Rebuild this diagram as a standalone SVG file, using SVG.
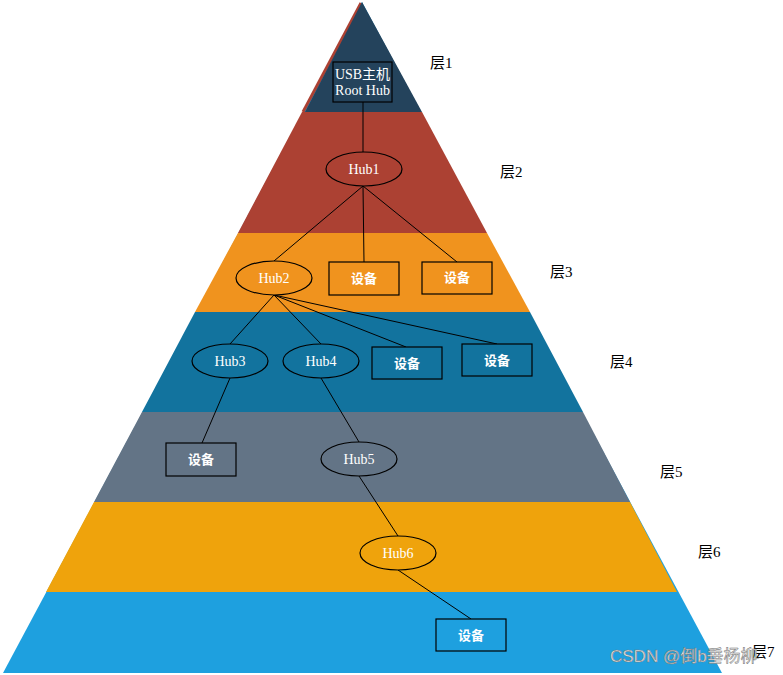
<svg xmlns="http://www.w3.org/2000/svg" width="783" height="675" viewBox="0 0 783 675">
<style>
.lbl{font-family:"Liberation Serif","Noto Sans CJK SC",serif;font-size:15px;fill:#000}
.hub{font-family:"Liberation Serif","Noto Sans CJK SC",serif;font-size:14px;fill:#fff;text-anchor:middle;dominant-baseline:central}
.dev{font-family:"Liberation Sans","Noto Sans CJK SC",sans-serif;font-size:13px;font-weight:bold;fill:#fff;text-anchor:middle;dominant-baseline:central}
.shape{stroke:#000;stroke-width:1.2}
.conn line{stroke:#000;stroke-width:1}
</style>
<rect width="783" height="675" fill="#fff"/>
<g id="pyramid">
<polygon points="362,2 722,673 3,673" fill="#1EA0DF"/>
<polygon points="46,592 677,592 630,502 94,502" fill="#EFA30C"/>
<polygon points="94,502 630,502 583,412 142,412" fill="#637486"/>
<polygon points="142,412 583,412 530,312 195,312" fill="#12739E"/>
<polygon points="195,312 530,312 487,233 238,233" fill="#F0931E"/>
<polygon points="238,233 487,233 422,112 302,112" fill="#AC4133"/>
<line x1="361" y1="3" x2="303" y2="112" stroke="#AC4133" stroke-width="3"/>
<polygon points="362,2 422,112 305,112" fill="#24435C"/>
</g>
<g id="labels">
<text class="lbl" x="430" y="68">层1</text>
<text class="lbl" x="500" y="177">层2</text>
<text class="lbl" x="550" y="277">层3</text>
<text class="lbl" x="610" y="367">层4</text>
<text class="lbl" x="660" y="477">层5</text>
<text class="lbl" x="698" y="557">层6</text>
<text class="lbl" x="752" y="657">层7</text>
</g>
<g id="connectors" class="conn">
<line x1="363" y1="102" x2="363" y2="152"/>
<line x1="363" y1="186" x2="274" y2="261"/>
<line x1="363" y1="186" x2="364" y2="262"/>
<line x1="363" y1="186" x2="457" y2="262"/>
<line x1="274" y1="295" x2="230" y2="344"/>
<line x1="274" y1="295" x2="321" y2="344"/>
<line x1="274" y1="295" x2="406" y2="347"/>
<line x1="274" y1="295" x2="497" y2="344"/>
<line x1="230" y1="378" x2="202" y2="443"/>
<line x1="321" y1="378" x2="359" y2="442"/>
<line x1="359" y1="476" x2="398" y2="536"/>
<line x1="398" y1="570" x2="471" y2="619"/>
</g>
<g id="root">
<rect class="shape" x="333" y="62" width="59" height="40" fill="#24435C"/>
<text class="hub" x="362.5" y="74" font-size="12">USB主机</text>
<text class="hub" x="362.5" y="90" font-size="12">Root Hub</text>
</g>
<g id="hub1"><ellipse class="shape" cx="364" cy="169" rx="38" ry="17" fill="#AC4133"/><text class="hub" x="364" y="169">Hub1</text></g>
<g id="hub2"><ellipse class="shape" cx="274" cy="278" rx="38" ry="17" fill="#F0931E"/><text class="hub" x="274" y="278">Hub2</text></g>
<g id="dev1"><rect class="shape" x="329" y="262" width="70" height="33" fill="#F0931E"/><text class="dev" x="364" y="278">设备</text></g>
<g id="dev2"><rect class="shape" x="422" y="262" width="70" height="32" fill="#F0931E"/><text class="dev" x="457" y="277">设备</text></g>
<g id="hub3"><ellipse class="shape" cx="230" cy="361" rx="38" ry="17" fill="#12739E"/><text class="hub" x="230" y="361">Hub3</text></g>
<g id="hub4"><ellipse class="shape" cx="321" cy="361" rx="38" ry="17" fill="#12739E"/><text class="hub" x="321" y="361">Hub4</text></g>
<g id="dev3"><rect class="shape" x="372" y="347" width="70" height="32" fill="#12739E"/><text class="dev" x="407" y="363">设备</text></g>
<g id="dev4"><rect class="shape" x="462" y="344" width="70" height="32" fill="#12739E"/><text class="dev" x="497" y="360">设备</text></g>
<g id="dev5"><rect class="shape" x="166" y="443" width="70" height="33" fill="#637486"/><text class="dev" x="201" y="459">设备</text></g>
<g id="hub5"><ellipse class="shape" cx="359" cy="459" rx="38" ry="17" fill="#637486"/><text class="hub" x="359" y="459">Hub5</text></g>
<g id="hub6"><ellipse class="shape" cx="398" cy="553" rx="38" ry="17" fill="#EFA30C"/><text class="hub" x="398" y="553">Hub6</text></g>
<g id="dev6"><rect class="shape" x="436" y="619" width="70" height="32" fill="#1EA0DF"/><text class="dev" x="471" y="635">设备</text></g>
<text x="610" y="662" font-family="'Liberation Sans','Noto Sans CJK SC',sans-serif" font-size="17" fill="#e8e8e8" stroke="#777" stroke-width="0.5">CSDN @倒b垂杨柳</text>
</svg>
